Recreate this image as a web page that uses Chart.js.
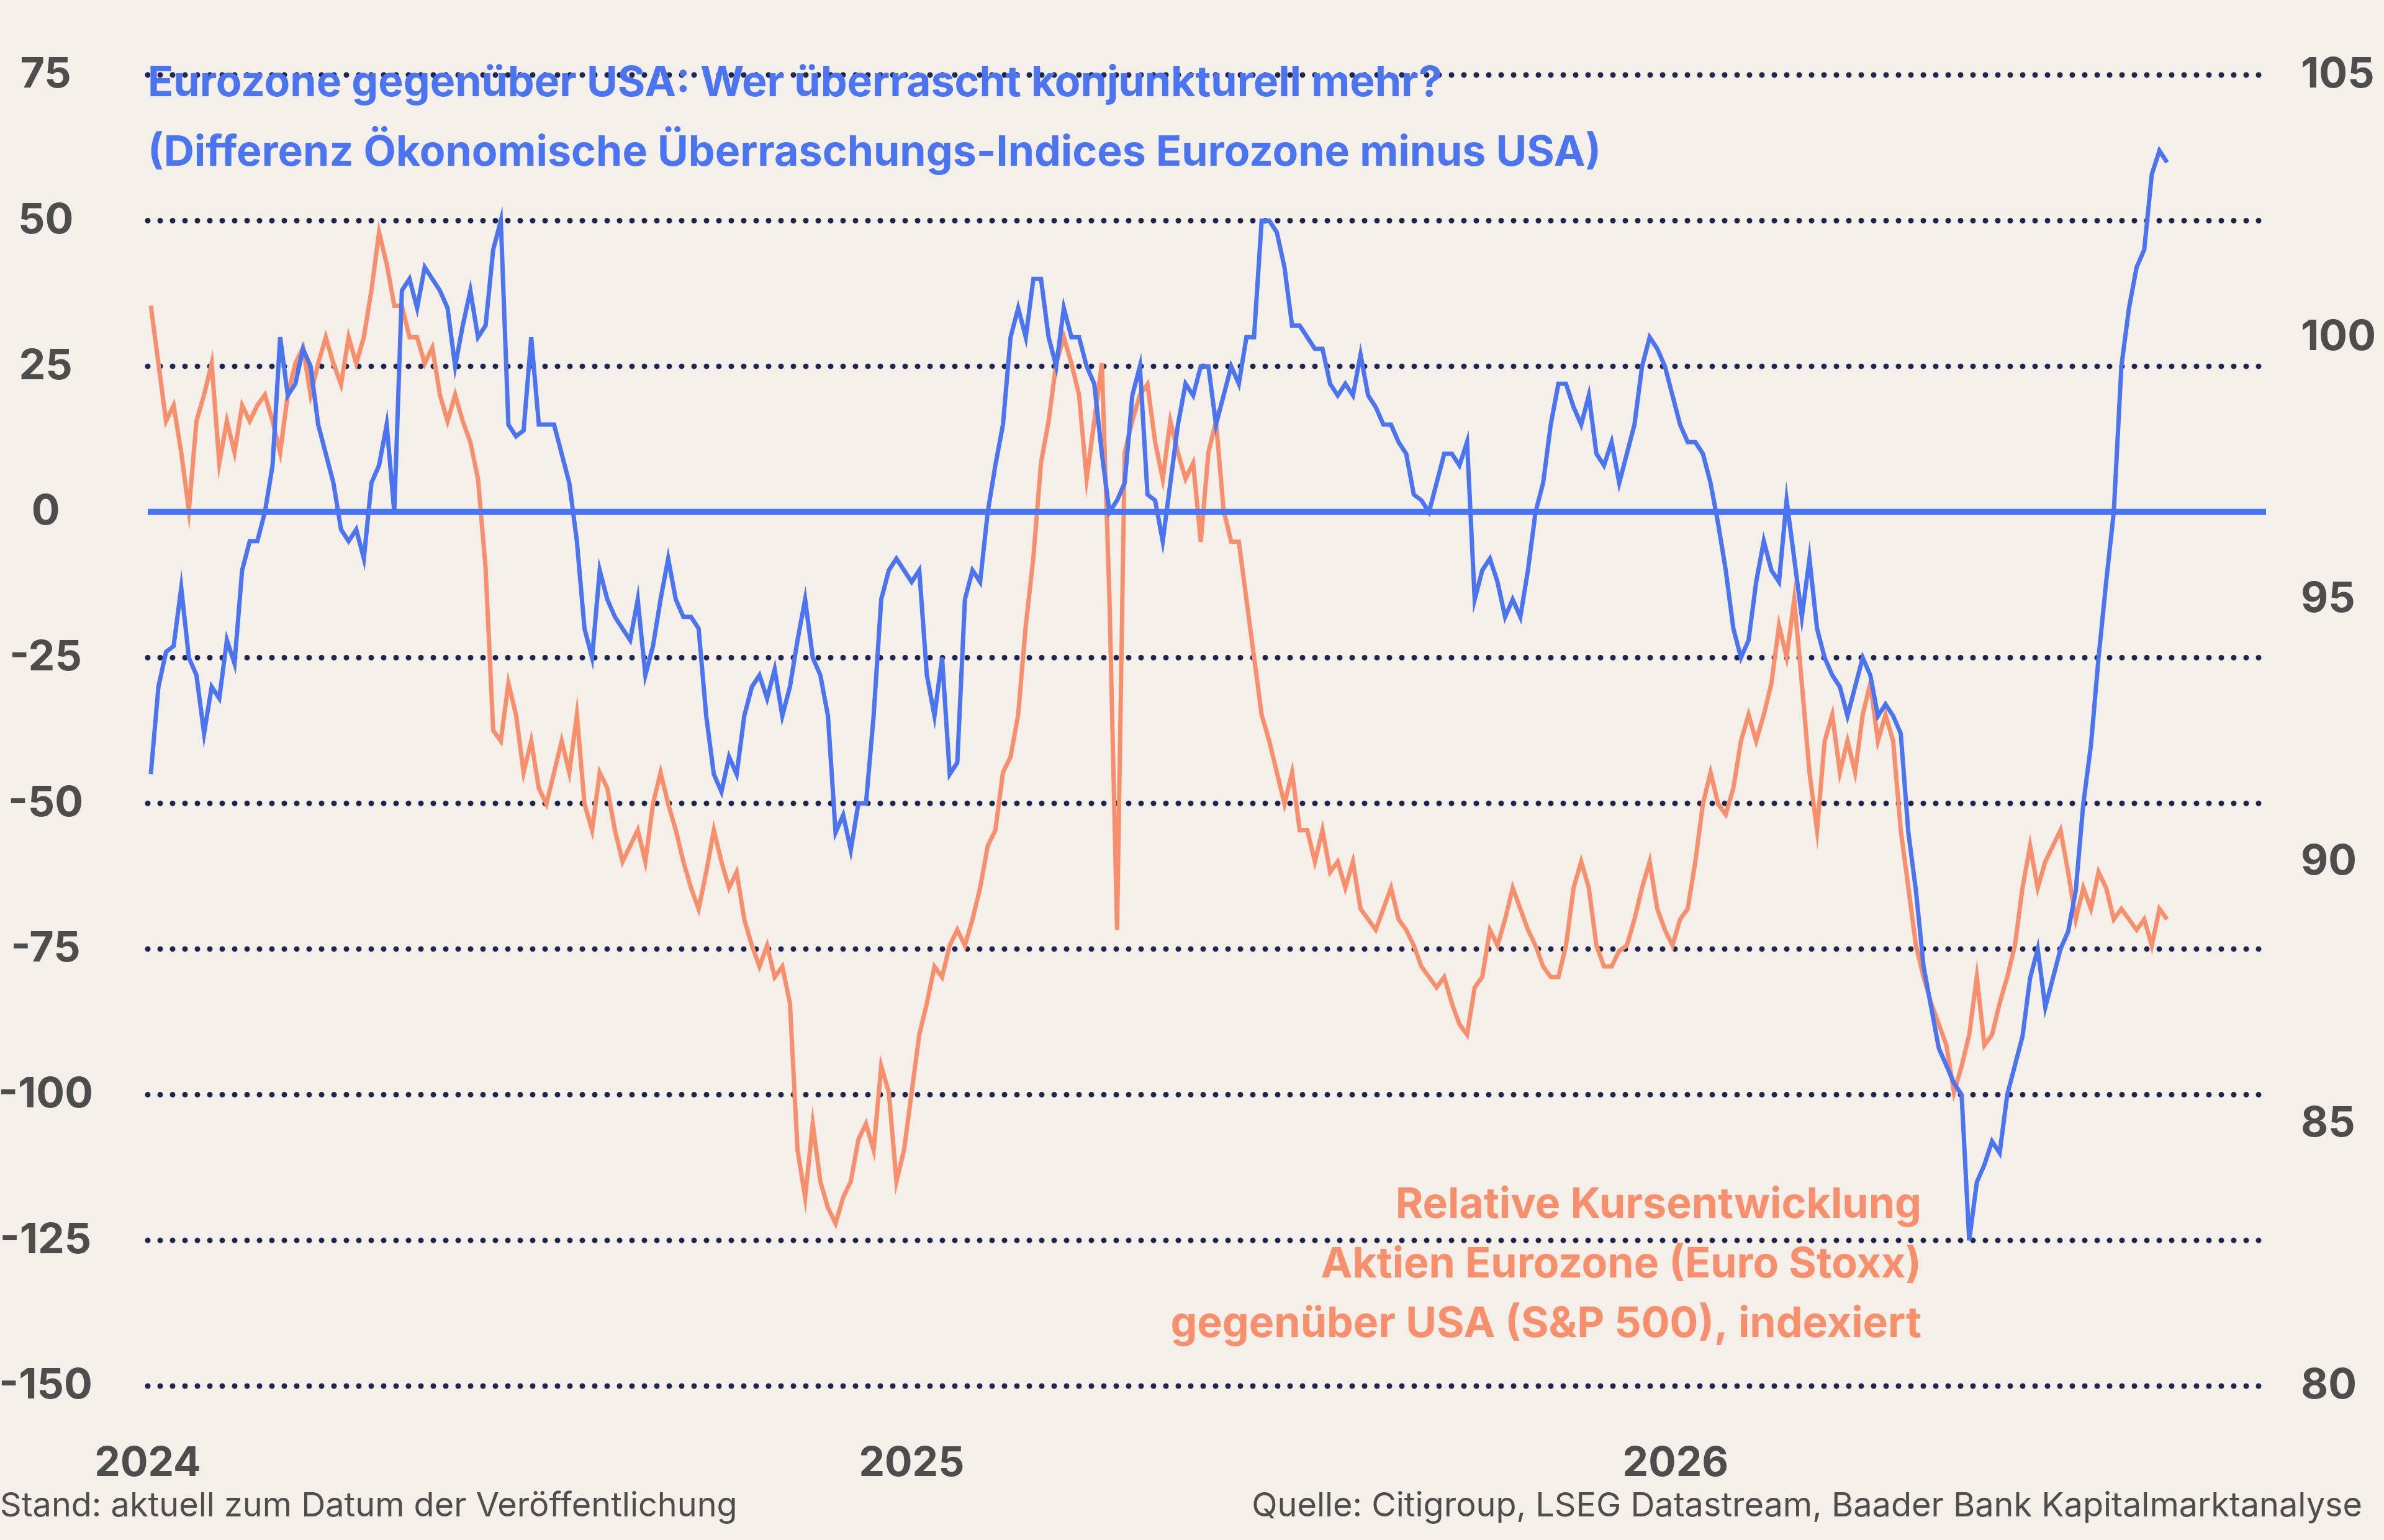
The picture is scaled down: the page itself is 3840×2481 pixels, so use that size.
<!DOCTYPE html>
<html><head><meta charset="utf-8">
<script src="https://cdn.jsdelivr.net/npm/chart.js@4/dist/chart.umd.min.js"></script>
<style>html,body{margin:0;padding:0;background:#f5efe9}#c{display:block}</style>
</head><body><canvas id="c" width="3840" height="2481"></canvas>
<script>
// weekly-ish observations (every ~3.6 days), first date ~ early Jan 2024
const startYear = 2024.004;
const stepYears = 0.00996;
const surpriseDiff = [-45,-30,-24,-23,-13,-25,-28,-38,-30,-32,-22,-26,-10,-5,-5,0,8,30,20,22,28,25,15,10,5,-3,-5,-3,-8,5,8,15,0,38,40,35,42,40,38,35,25,32,38,30,32,45,50,15,13,14,30,15,15,15,10,5,-5,-20,-25,-10,-15,-18,-20,-22,-15,-28,-23,-15,-8,-15,-18,-18,-20,-35,-45,-48,-42,-45,-35,-30,-28,-32,-27,-35,-30,-22,-15,-25,-28,-35,-55,-52,-58,-50,-50,-35,-15,-10,-8,-10,-12,-10,-28,-35,-25,-45,-43,-15,-10,-12,0,8,15,30,35,30,40,40,30,25,35,30,30,25,22,10,0,2,5,20,25,3,2,-5,5,15,22,20,25,25,15,20,25,22,30,30,50,50,48,42,32,32,30,28,28,22,20,22,20,27,20,18,15,15,12,10,3,2,0,5,10,10,8,12,-15,-10,-8,-12,-18,-15,-18,-10,0,5,15,22,22,18,15,20,10,8,12,5,10,15,25,30,28,25,20,15,12,12,10,5,-2,-10,-20,-25,-22,-12,-5,-10,-12,2,-8,-18,-8,-20,-25,-28,-30,-35,-30,-25,-28,-35,-33,-35,-38,-55,-65,-78,-85,-92,-95,-98,-100,-125,-115,-112,-108,-110,-100,-95,-90,-80,-75,-85,-80,-75,-72,-65,-50,-40,-25,-12,0,25,35,42,45,58,62,60];
const relPerf = [100.6,99.5,98.4,98.7,97.8,96.7,98.4,98.9,99.5,97.6,98.4,97.8,98.7,98.4,98.7,98.9,98.4,97.8,98.9,99.5,99.8,98.9,99.5,100.0,99.5,99.1,100.0,99.5,100.0,100.9,102.0,101.4,100.6,100.6,100.0,100.0,99.5,99.8,98.9,98.4,98.9,98.4,98.0,97.3,95.6,92.5,92.3,93.4,92.8,91.7,92.3,91.4,91.1,91.7,92.3,91.7,92.8,91.1,90.6,91.7,91.4,90.6,90.0,90.3,90.6,90.0,91.1,91.7,91.1,90.6,90.0,89.5,89.1,89.8,90.6,90.0,89.5,89.8,88.9,88.4,88.0,88.4,87.8,88.0,87.3,84.5,83.6,85.0,83.9,83.4,83.1,83.6,83.9,84.7,85.0,84.5,86.1,85.6,83.9,84.5,85.6,86.7,87.3,88.0,87.8,88.4,88.7,88.4,88.9,89.5,90.3,90.6,91.7,92.0,92.8,94.5,95.8,97.6,98.4,99.5,100.0,99.5,98.9,97.3,98.4,99.5,95.0,88.7,97.8,98.4,98.9,99.1,98.0,97.3,98.4,97.8,97.3,97.6,96.1,97.8,98.4,96.7,96.1,96.1,95.0,93.9,92.8,92.3,91.7,91.1,91.7,90.6,90.6,90.0,90.6,89.8,90.0,89.5,90.0,89.1,88.9,88.7,89.1,89.5,88.9,88.7,88.4,88.0,87.8,87.6,87.8,87.3,86.9,86.7,87.6,87.8,88.7,88.4,88.9,89.5,89.1,88.7,88.4,88.0,87.8,87.8,88.4,89.5,90.0,89.5,88.4,88.0,88.0,88.3,88.4,88.9,89.5,90.0,89.1,88.7,88.4,88.9,89.1,90.0,91.1,91.7,91.1,90.9,91.4,92.3,92.8,92.3,92.8,93.4,94.5,93.9,95.0,93.4,91.7,90.6,92.3,92.8,91.7,92.3,91.7,92.8,93.4,92.3,92.8,92.3,90.6,89.5,88.4,87.8,87.3,86.9,86.5,85.6,86.1,86.7,87.8,86.5,86.7,87.3,87.8,88.4,89.5,90.3,89.5,90.0,90.3,90.6,89.8,88.9,89.5,89.1,89.8,89.5,88.9,89.1,88.9,88.7,88.9,88.4,89.1,88.9];
const yearTicks = [2024, 2025, 2026];
const leftTicks = [75,50,25,0,-25,-50,-75,-100,-125,-150];
const rightTicks = [105,100,95,90,85,80];
const titleLines = ["Eurozone gegenüber USA: Wer überrascht konjunkturell mehr?","(Differenz Ökonomische Überraschungs-Indices Eurozone minus USA)"];
const perfLabel = ["Relative Kursentwicklung","Aktien Eurozone (Euro Stoxx)","gegenüber USA (S&P 500), indexiert"];
const footLeft = "Stand: aktuell zum Datum der Veröffentlichung";
const footRight = "Quelle: Citigroup, LSEG Datastream, Baader Bank Kapitalmarktanalyse";

const BLUE = '#4b74f0', ORANGE = '#f78f6c', NAVY = '#1c2650', GREY = '#4d4d4d';
const FONT = 'Inter, "Liberation Sans", sans-serif';
const toPts = arr => arr.map((v, i) => ({x: startYear + i * stepYears, y: v}));

const deco = {
  id: 'deco',
  beforeDatasetsDraw(c) {
    const ctx = c.ctx, a = c.chartArea, y = c.scales.yL;
    ctx.save();
    ctx.strokeStyle = NAVY; ctx.lineWidth = 9; ctx.lineCap = 'round'; ctx.setLineDash([0, 20]);
    leftTicks.forEach(t => { if (t === 0) return; const p = y.getPixelForValue(t);
      ctx.beginPath(); ctx.moveTo(a.left, p); ctx.lineTo(a.right, p); ctx.stroke(); });
    ctx.restore();
  },
  afterDatasetsDraw(c) {
    const ctx = c.ctx, a = c.chartArea, y = c.scales.yL;
    ctx.save();
    const p = y.getPixelForValue(0);
    ctx.strokeStyle = BLUE; ctx.lineWidth = 10;
    ctx.beginPath(); ctx.moveTo(a.left, p); ctx.lineTo(a.right, p); ctx.stroke();
    ctx.font = 'bold 68px ' + FONT; ctx.fillStyle = BLUE; ctx.textBaseline = 'middle'; ctx.textAlign = 'left';
    ctx.fillText(titleLines[0], 238, 135); ctx.fillText(titleLines[1], 238, 247);
    ctx.fillStyle = ORANGE; ctx.textAlign = 'right';
    perfLabel.forEach((t, i) => ctx.fillText(t, 3095, 1942 + i * 96));
    ctx.font = '54px ' + FONT; ctx.fillStyle = GREY;
    ctx.textAlign = 'left'; ctx.fillText(footLeft, 0, 2427);
    ctx.textAlign = 'right'; ctx.fillText(footRight, 3805, 2427);
    ctx.restore();
  }
};

new Chart(document.getElementById('c'), {
  type: 'line',
  data: { datasets: [
    { data: toPts(relPerf), yAxisID: 'yR', borderColor: ORANGE, borderWidth: 7, pointRadius: 0, tension: 0, order: 2 },
    { data: toPts(surpriseDiff), yAxisID: 'yL', borderColor: BLUE, borderWidth: 7, pointRadius: 0, tension: 0, order: 1 }
  ]},
  options: {
    responsive: false, animation: false, events: [],
    layout: { padding: { top: 17, left: 0, right: 0, bottom: 0 } },
    plugins: { legend: { display: false }, tooltip: { enabled: false } },
    scales: {
      x: { type: 'linear', min: 2024, max: 2026.773, grid: { display: false }, border: { display: false },
        afterBuildTicks: s => { s.ticks = yearTicks.map(v => ({value: v})); },
        afterFit: s => { s.height = 248; },
        ticks: { color: GREY, font: { family: FONT, size: 66, weight: 'bold' }, padding: 78, maxRotation: 0,
          callback: v => String(v) } },
      yL: { position: 'left', min: -150, max: 75, grid: { display: false }, border: { display: false },
        afterBuildTicks: s => { s.ticks = leftTicks.map(v => ({value: v})); },
        afterFit: s => { s.width = 238; },
        ticks: { color: GREY, font: { family: FONT, size: 68, weight: 'bold' }, padding: 80, align: 'center', crossAlign: 'center' } },
      yR: { position: 'right', min: 80, max: 105, grid: { display: false }, border: { display: false },
        afterBuildTicks: s => { s.ticks = rightTicks.map(v => ({value: v})); },
        afterFit: s => { s.width = 190; },
        ticks: { color: GREY, font: { family: FONT, size: 68, weight: 'bold' }, padding: 48 } }
    }
  },
  plugins: [deco]
});
</script></body></html>
